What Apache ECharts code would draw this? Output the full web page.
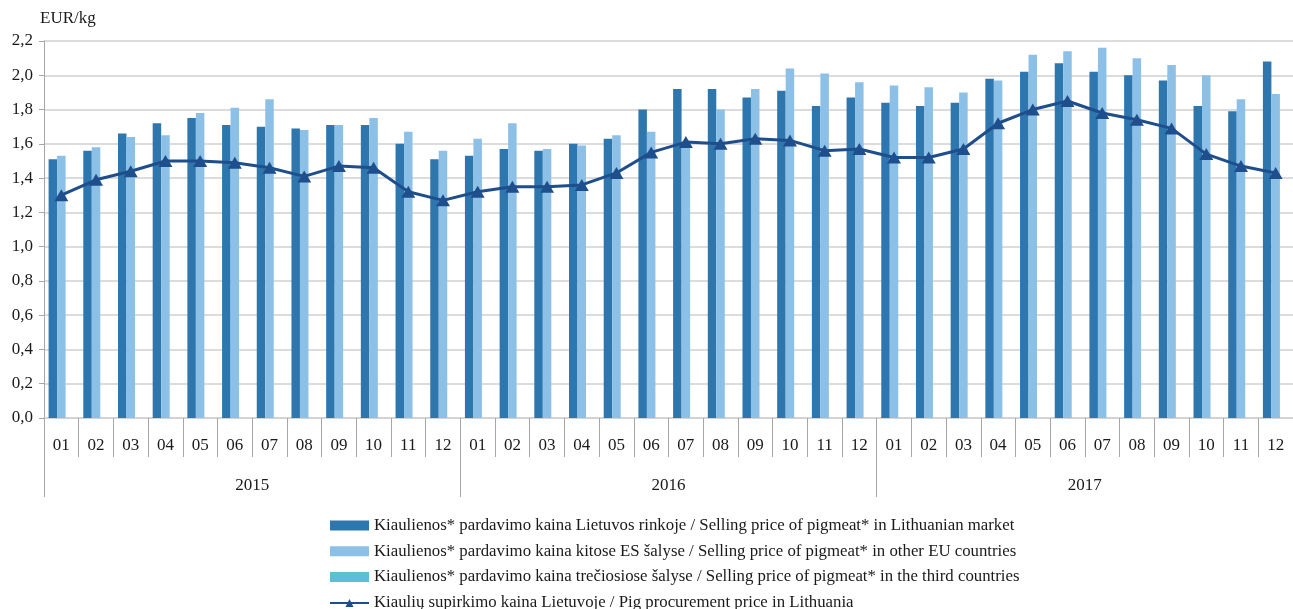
<!DOCTYPE html>
<html>
<head>
<meta charset="utf-8">
<script src="https://cdn.jsdelivr.net/npm/echarts@6/dist/echarts.min.js"></script>
<style>
html, body { margin: 0; padding: 0; background: #fff; }
#chart { width: 1293px; height: 609px; }
</style>
</head>
<body>
<div id="chart"></div>
<script>
var months = [ '01', '02', '03', '04', '05', '06', '07', '08', '09', '10', '11', '12',
	'01', '02', '03', '04', '05', '06', '07', '08', '09', '10', '11', '12',
	'01', '02', '03', '04', '05', '06', '07', '08', '09', '10', '11', '12' ];
var years = [ '2015', '2016', '2017' ];

var seriesNames = [
	'Kiaulienos* pardavimo kaina Lietuvos rinkoje / Selling price of pigmeat* in Lithuanian market',
	'Kiaulienos* pardavimo kaina kitose ES šalyse / Selling price of pigmeat* in other EU countries',
	'Kiaulienos* pardavimo kaina trečiosiose šalyse / Selling price of pigmeat* in the third countries',
	'Kiaulių supirkimo kaina Lietuvoje / Pig procurement price in Lithuania'
];

// selling price, Lithuanian market
var ltMarket = [ 1.51, 1.56, 1.66, 1.72, 1.75, 1.71, 1.70, 1.69, 1.71, 1.71, 1.60, 1.51,
	1.53, 1.57, 1.56, 1.60, 1.63, 1.80, 1.92, 1.92, 1.87, 1.91, 1.82, 1.87,
	1.84, 1.82, 1.84, 1.98, 2.02, 2.07, 2.02, 2.00, 1.97, 1.82, 1.79, 2.08 ];
// selling price, other EU countries
var euMarket = [ 1.53, 1.58, 1.64, 1.65, 1.78, 1.81, 1.86, 1.68, 1.71, 1.75, 1.67, 1.56,
	1.63, 1.72, 1.57, 1.59, 1.65, 1.67, 1.60, 1.80, 1.92, 2.04, 2.01, 1.96,
	1.94, 1.93, 1.90, 1.97, 2.12, 2.14, 2.16, 2.10, 2.06, 2.00, 1.86, 1.89 ];
// selling price, third countries (no values shown)
var thirdMarket = [];
// procurement price
var procurement = [ 1.30, 1.39, 1.44, 1.50, 1.50, 1.49, 1.46, 1.41, 1.47, 1.46, 1.32, 1.27,
	1.32, 1.35, 1.35, 1.36, 1.43, 1.55, 1.61, 1.60, 1.63, 1.62, 1.56, 1.57,
	1.52, 1.52, 1.57, 1.72, 1.80, 1.85, 1.78, 1.74, 1.69, 1.54, 1.47, 1.43 ];

var serif = 'Liberation Serif';
var gridColor = '#d0d0d0';
var axisColor = '#a6a6a6';
var textColor = '#1a1a1a';

var option = {
	animation : false,
	textStyle : {
		fontFamily : serif
	},
	grid : {
		left : 44,
		right : -3,
		top : 41,
		bottom : 191
	},
	legend : {
		orient : 'vertical',
		left : 329,
		top : 517,
		height : 140,
		padding : 0,
		itemWidth : 39,
		itemHeight : 10,
		itemGap : 8.8,
		textStyle : {
			fontFamily : serif,
			fontSize : 16.8,
			lineHeight : 17,
			color : textColor
		},
		data : [
			{ name : seriesNames[0], icon : 'rect' },
			{ name : seriesNames[1], icon : 'rect' },
			{ name : seriesNames[2], icon : 'rect' },
			{ name : seriesNames[3] }
		]
	},
	xAxis : [
		{
			type : 'category',
			data : months,
			position : 'bottom',
			axisLine : {
				lineStyle : {
					color : gridColor,
					width : 1.5
				}
			},
			axisTick : {
				show : true,
				interval : 0,
				length : 39,
				lineStyle : {
					color : axisColor
				}
			},
			axisLabel : {
				interval : 0,
				margin : 19,
				fontSize : 17,
				color : textColor
			}
		},
		{
			type : 'category',
			data : years,
			position : 'bottom',
			axisLine : {
				show : false
			},
			axisTick : {
				show : true,
				interval : 0,
				length : 79,
				lineStyle : {
					color : axisColor
				}
			},
			axisLabel : {
				margin : 59,
				fontSize : 17,
				color : textColor
			}
		}
	],
	yAxis : {
		type : 'value',
		min : 0,
		max : 2.2,
		interval : 0.2,
		name : 'EUR/kg',
		nameLocation : 'end',
		nameGap : 14,
		nameTextStyle : {
			fontFamily : serif,
			fontSize : 17,
			color : textColor,
			align : 'left',
			padding : [ 0, 0, 0, -4 ]
		},
		axisLine : {
			show : true,
			lineStyle : {
				color : axisColor
			}
		},
		axisTick : {
			show : true,
			length : 5,
			lineStyle : {
				color : axisColor
			}
		},
		axisLabel : {
			fontSize : 17,
			color : textColor,
			margin : 11,
			formatter : function(v) {
				return v.toFixed(1).replace('.', ',');
			}
		},
		splitLine : {
			lineStyle : {
				color : gridColor,
				width : 1.5
			}
		}
	},
	series : [
		{
			name : seriesNames[0],
			type : 'bar',
			barWidth : 8.5,
			barGap : '0%',
			itemStyle : {
				color : '#2e77ae'
			},
			data : ltMarket
		},
		{
			name : seriesNames[1],
			type : 'bar',
			barWidth : 8.5,
			barGap : '0%',
			itemStyle : {
				color : '#8dc0e6'
			},
			data : euMarket
		},
		{
			name : seriesNames[2],
			type : 'bar',
			barWidth : 8.5,
			barGap : '0%',
			itemStyle : {
				color : '#5bc0d4'
			},
			data : thirdMarket
		},
		{
			name : seriesNames[3],
			type : 'line',
			symbol : 'triangle',
			symbolSize : [ 14, 12 ],
			lineStyle : {
				color : '#1f4e8c',
				width : 3
			},
			itemStyle : {
				color : '#1f4e8c'
			},
			data : procurement
		}
	]
};

var myChart = echarts.init(document.getElementById('chart'));
myChart.setOption(option);
</script>
</body>
</html>
